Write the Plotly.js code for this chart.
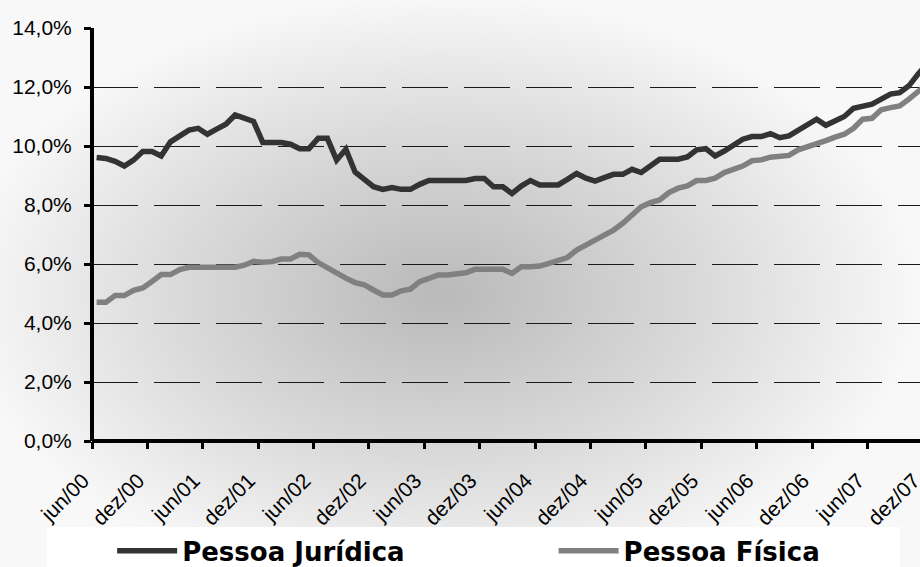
<!DOCTYPE html>
<html>
<head>
<meta charset="utf-8">
<script src="https://cdn.plot.ly/plotly-3.0.1.min.js"></script>
<style>
html,body{margin:0;padding:0;overflow:hidden;width:920px;height:567px;background:#f8f8f8;}
#chart{width:940px;height:567px;
background:radial-gradient(ellipse 480px 300px at 440px 295px,#b9b9b9 0%,#c8c8c8 25%,#dadada 55%,#eeeeee 85%,#f8f8f8 100%);}
</style>
</head>
<body>
<div id="chart"></div>
<script>
// Monthly series jun/00 .. dez/07 (91 months), values in %
var seriesNames = ['Pessoa Jurídica', 'Pessoa Física'];
var pessoaJuridica = [
  9.61, 9.58, 9.48, 9.32, 9.52, 9.81, 9.81, 9.66, 10.14, 10.34,
  10.54, 10.60, 10.40, 10.57, 10.74, 11.05, 10.94, 10.83, 10.12, 10.12,
  10.12, 10.06, 9.91, 9.91, 10.26, 10.26, 9.52, 9.89, 9.12, 8.87,
  8.62, 8.53, 8.59, 8.53, 8.53, 8.70, 8.83, 8.83, 8.83, 8.83,
  8.83, 8.90, 8.90, 8.62, 8.62, 8.39, 8.64, 8.83, 8.68, 8.68,
  8.68, 8.87, 9.07, 8.91, 8.81, 8.93, 9.04, 9.04, 9.21, 9.10,
  9.34, 9.55, 9.55, 9.55, 9.63, 9.87, 9.91, 9.66, 9.83, 10.03,
  10.23, 10.32, 10.32, 10.42, 10.28, 10.34, 10.54, 10.74, 10.91, 10.70,
  10.85, 11.00, 11.28, 11.33, 11.42, 11.59, 11.76, 11.81, 12.04, 12.44,
  12.80
];
var pessoaFisica = [
  4.70, 4.70, 4.93, 4.93, 5.11, 5.19, 5.41, 5.64, 5.64, 5.81,
  5.89, 5.89, 5.89, 5.89, 5.89, 5.89, 5.96, 6.09, 6.06, 6.08,
  6.17, 6.17, 6.33, 6.31, 6.05, 5.86, 5.69, 5.52, 5.37, 5.29,
  5.12, 4.95, 4.95, 5.09, 5.15, 5.40, 5.51, 5.63, 5.63, 5.68,
  5.70, 5.82, 5.82, 5.82, 5.82, 5.68, 5.91, 5.91, 5.93, 6.02,
  6.13, 6.22, 6.47, 6.62, 6.81, 6.98, 7.15, 7.38, 7.66, 7.94,
  8.08, 8.17, 8.42, 8.57, 8.65, 8.83, 8.83, 8.91, 9.10, 9.19,
  9.32, 9.50, 9.53, 9.62, 9.66, 9.68, 9.87, 9.96, 10.07, 10.18,
  10.30, 10.40, 10.60, 10.91, 10.94, 11.23, 11.30, 11.36, 11.59, 11.85,
  12.10
];
var tickLabels = ['jun/00','dez/00','jun/01','dez/01','jun/02','dez/02','jun/03','dez/03',
                  'jun/04','dez/04','jun/05','dez/05','jun/06','dez/06','jun/07','dez/07'];
var tickStep = 6;
var yTicks = [0, 2, 4, 6, 8, 10, 12, 14];
var yTickLabels = ['0,0%', '2,0%', '4,0%', '6,0%', '8,0%', '10,0%', '12,0%', '14,0%'];

// category scale: month i is centred in its slot [i, i+1]
var xCenters = pessoaJuridica.map(function(_, i){ return i + 0.5; });
var tickVals = tickLabels.map(function(_, k){ return k * tickStep; });

var traces = [
  {x: xCenters, y: pessoaJuridica, name: seriesNames[0], type: 'scatter', mode: 'lines',
   line: {color: '#333333', width: 5.5}, legend: 'legend'},
  {x: xCenters, y: pessoaFisica, name: seriesNames[1], type: 'scatter', mode: 'lines',
   line: {color: '#808080', width: 5.5}, legend: 'legend2'}
];

var legendFont = {family: 'DejaVu Sans, Verdana, sans-serif', size: 26, color: '#000', weight: 'bold'};

var layout = {
  width: 940, height: 567,
  margin: {l: 92, r: 8, t: 28, b: 126, autoexpand: false},
  paper_bgcolor: 'rgba(0,0,0,0)',
  plot_bgcolor: 'rgba(0,0,0,0)',
  showlegend: true,
  xaxis: {
    range: [0, pessoaJuridica.length],
    tickmode: 'array', tickvals: tickVals, ticktext: tickLabels,
    tickangle: -45,
    ticks: 'outside', ticklen: 7, tickwidth: 3, tickcolor: '#000',
    ticklabelstandoff: 11, ticklabelshift: -9,
    showgrid: false, showline: false,
    zeroline: true, zerolinecolor: '#000', zerolinewidth: 4,
    tickfont: {family: 'Liberation Sans, Arial, sans-serif', size: 21, color: '#000'},
    automargin: false,
    fixedrange: true
  },
  yaxis: {
    range: [0, 14],
    tickmode: 'array', tickvals: yTicks, ticktext: yTickLabels,
    ticks: 'outside', ticklen: 7, tickwidth: 3, tickcolor: '#000',
    ticklabelstandoff: 8,
    showgrid: true, gridcolor: '#1a1a1a', gridwidth: 1, griddash: '46px,16px',
    showline: false,
    zeroline: true, zerolinecolor: '#000', zerolinewidth: 4,
    tickfont: {family: 'Liberation Sans, Arial, sans-serif', size: 21, color: '#000'},
    automargin: false,
    fixedrange: true
  },
  legend: {
    orientation: 'h',
    x: 0.024, xanchor: 'left',
    y: -0.266, yanchor: 'middle',
    bgcolor: 'rgba(0,0,0,0)',
    font: legendFont,
    itemwidth: 60
  },
  legend2: {
    orientation: 'h',
    x: 0.5495, xanchor: 'left',
    y: -0.266, yanchor: 'middle',
    bgcolor: 'rgba(0,0,0,0)',
    font: legendFont,
    itemwidth: 60
  },
  shapes: [
    {type: 'rect', xref: 'paper', yref: 'paper', layer: 'below',
     x0: -0.0536, x1: 0.962, y0: -0.31, y1: -0.208,
     fillcolor: '#ffffff', line: {width: 0}}
  ]
};

Plotly.newPlot('chart', traces, layout, {displayModeBar: false, staticPlot: true});
</script>
</body>
</html>
